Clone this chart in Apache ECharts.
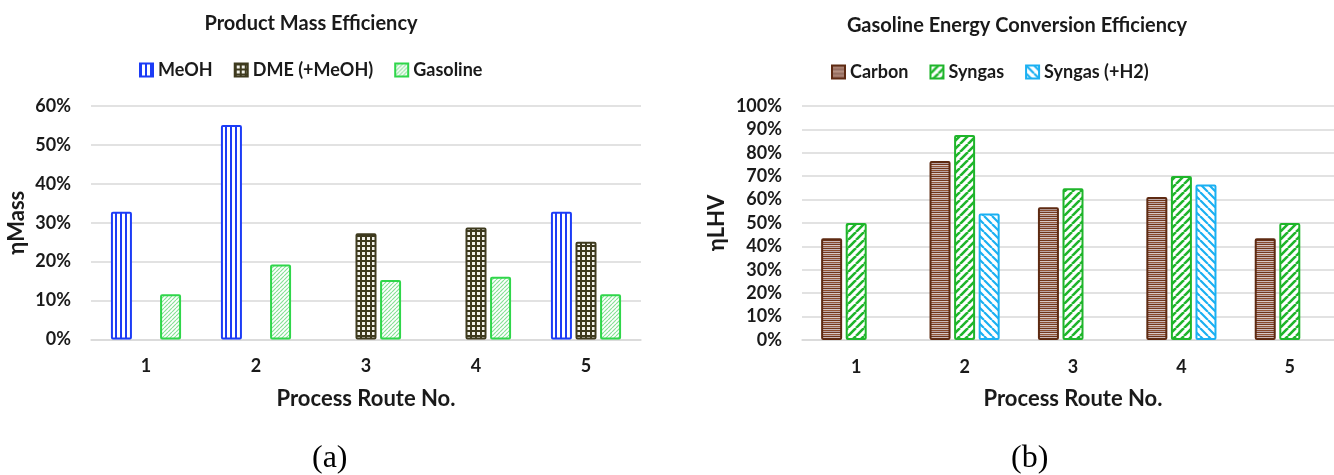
<!DOCTYPE html>
<html>
<head>
<meta charset="utf-8">
<script src="https://cdn.jsdelivr.net/npm/echarts@6/dist/echarts.min.js"></script>
<style>
  html, body { margin: 0; padding: 0; background: #fff; }
  #chart { width: 1334px; height: 475px; }
</style>
</head>
<body>
<div id="chart"></div>
<script>
// Process routes (shared by both panels)
const routes = ['1', '2', '3', '4', '5'];

// (a) Product mass efficiency, %
const massMeOH     = [32.8, 55.1, null, null, 32.8];
const massDME      = [null, null, 27.3, 28.8, 25.1];
const massGasoline = [11.6, 19.3, 15.3, 16.1, 11.6];

// (b) Gasoline energy conversion efficiency (LHV basis), %
const lhvCarbon   = [43.5, 76.5, 56.7, 61.1, 43.5];
const lhvSyngas   = [50.0, 87.6, 64.8, 70.1, 50.0];
const lhvSyngasH2 = [null, 54.1, null, 66.5, null];

const FONT = 'Lato, "Liberation Sans", sans-serif';
const TXT = '#1a1a1a';

// Small canvas tiles used as hatch fills
function tile(w, h, draw) {
  const c = document.createElement('canvas');
  c.width = w; c.height = h;
  const g = c.getContext('2d');
  draw(g, w, h);
  return { image: c, repeat: 'repeat' };
}
function diag(color, bg, size, lw, forward) {
  return tile(size, size, (g, s) => {
    g.fillStyle = bg; g.fillRect(0, 0, s, s);
    g.strokeStyle = color; g.lineWidth = lw;
    g.beginPath();
    for (const o of [-s, 0, s]) {
      if (forward) { g.moveTo(o, s); g.lineTo(o + s, 0); }
      else { g.moveTo(o, 0); g.lineTo(o + s, s); }
    }
    g.stroke();
  });
}

const fillMeOH = tile(5, 2, (g) => {
  g.fillStyle = '#ffffff'; g.fillRect(0, 0, 5, 2);
  g.fillStyle = '#1c3cf6'; g.fillRect(0, 0, 2, 2);
});
const fillDME = tile(5, 5, (g) => {
  g.fillStyle = '#f3f2ea'; g.fillRect(0, 0, 5, 5);
  g.fillStyle = '#3e3a1e'; g.fillRect(0, 0, 5, 2); g.fillRect(0, 0, 2, 5);
});
const fillGasoline = diag('#86e096', '#ffffff', 4, 1.2, true);
const fillCarbon = tile(4, 8, (g) => {
  const rows = ['#6e3419', '#cbb9b9', '#8a4a2c', '#b9a3a3', '#733820', '#d8c9c6', '#94573a', '#bfaaa8'];
  rows.forEach((c, i) => { g.fillStyle = c; g.fillRect(0, i, 4, 1); });
});
const fillSyngas = diag('#1fb52b', '#ffffff', 8, 2.6, true);
const fillSyngasH2 = diag('#1ab0f2', '#ffffff', 8, 2.2, false);

function bar(name, data, fill, border, xi) {
  return {
    name, type: 'bar', data,
    xAxisIndex: xi, yAxisIndex: xi,
    barWidth: 21, barGap: '17%',
    itemStyle: { color: fill, borderColor: border, borderWidth: 2, borderRadius: 1 }
  };
}

const grid = '#d9d9d9';
function catAxis(gi) {
  return {
    type: 'category', gridIndex: gi, data: routes,
    axisLine: { lineStyle: { color: grid, width: 1.5 } },
    axisTick: { show: false },
    axisLabel: { color: TXT, fontFamily: FONT, fontWeight: 'bold', fontSize: 18, margin: 18 },
    name: 'Process Route No.', nameLocation: 'middle', nameGap: 48,
    nameTextStyle: { color: TXT, fontFamily: FONT, fontWeight: 'bold', fontSize: 22 }
  };
}
function valAxis(gi, max, name, gap) {
  return {
    type: 'value', gridIndex: gi, min: 0, max, interval: 10,
    axisLabel: { formatter: '{value}%', color: TXT, fontFamily: FONT, fontWeight: 'bold', fontSize: 18, margin: 20 },
    splitLine: { lineStyle: { color: grid, width: 1.5 } },
    axisLine: { show: false }, axisTick: { show: false },
    name, nameLocation: 'middle', nameRotate: 90, nameGap: gap,
    nameTextStyle: { color: TXT, fontFamily: FONT, fontWeight: 'bold', fontSize: 22 }
  };
}

const legendText = { color: TXT, fontFamily: FONT, fontWeight: 'bold', fontSize: 18 };

const option = {
  backgroundColor: '#ffffff',
  animation: false,
  title: [
    { text: 'Product Mass Efficiency', left: 306, top: 9, textAlign: 'center',
      textStyle: { color: TXT, fontFamily: FONT, fontWeight: 'bold', fontSize: 20 } },
    { text: 'Gasoline Energy Conversion Efficiency', left: 1012, top: 11, textAlign: 'center',
      textStyle: { color: TXT, fontFamily: FONT, fontWeight: 'bold', fontSize: 20 } }
  ],
  legend: [
    { data: ['MeOH', 'DME (+MeOH)', 'Gasoline'], left: 134, top: 56,
      itemWidth: 13, itemHeight: 13, itemGap: 21, icon: 'rect', textStyle: legendText },
    { data: ['Carbon', 'Syngas', 'Syngas (+H2)'], left: 826, top: 58,
      itemWidth: 13, itemHeight: 13, itemGap: 21, icon: 'rect', textStyle: legendText }
  ],
  grid: [
    { left: 91, top: 106, width: 550, height: 233.5, outerBoundsMode: 'none', containLabel: false },
    { left: 802, top: 106, width: 542, height: 234, outerBoundsMode: 'none', containLabel: false }
  ],
  xAxis: [catAxis(0), catAxis(1)],
  yAxis: [valAxis(0, 60, 'ηMass', 63), valAxis(1, 100, 'ηLHV', 74)],
  series: [
    bar('MeOH', massMeOH, fillMeOH, '#1c3cf6', 0),
    bar('DME (+MeOH)', massDME, fillDME, '#3e3a1e', 0),
    bar('Gasoline', massGasoline, fillGasoline, '#2fd64a', 0),
    bar('Carbon', lhvCarbon, fillCarbon, '#5e2a12', 1),
    bar('Syngas', lhvSyngas, fillSyngas, '#1fb52b', 1),
    bar('Syngas (+H2)', lhvSyngasH2, fillSyngasH2, '#1ab0f2', 1)
  ],
  graphic: [
    { type: 'text', left: 312, top: 443,
      style: { text: '(a)', font: '32px "Liberation Serif", serif', fill: '#000' } },
    { type: 'text', left: 1011, top: 443,
      style: { text: '(b)', font: '32px "Liberation Serif", serif', fill: '#000' } }
  ]
};

const chart = echarts.init(document.getElementById('chart'), null, { renderer: 'canvas' });
chart.setOption(option);
</script>
</body>
</html>
